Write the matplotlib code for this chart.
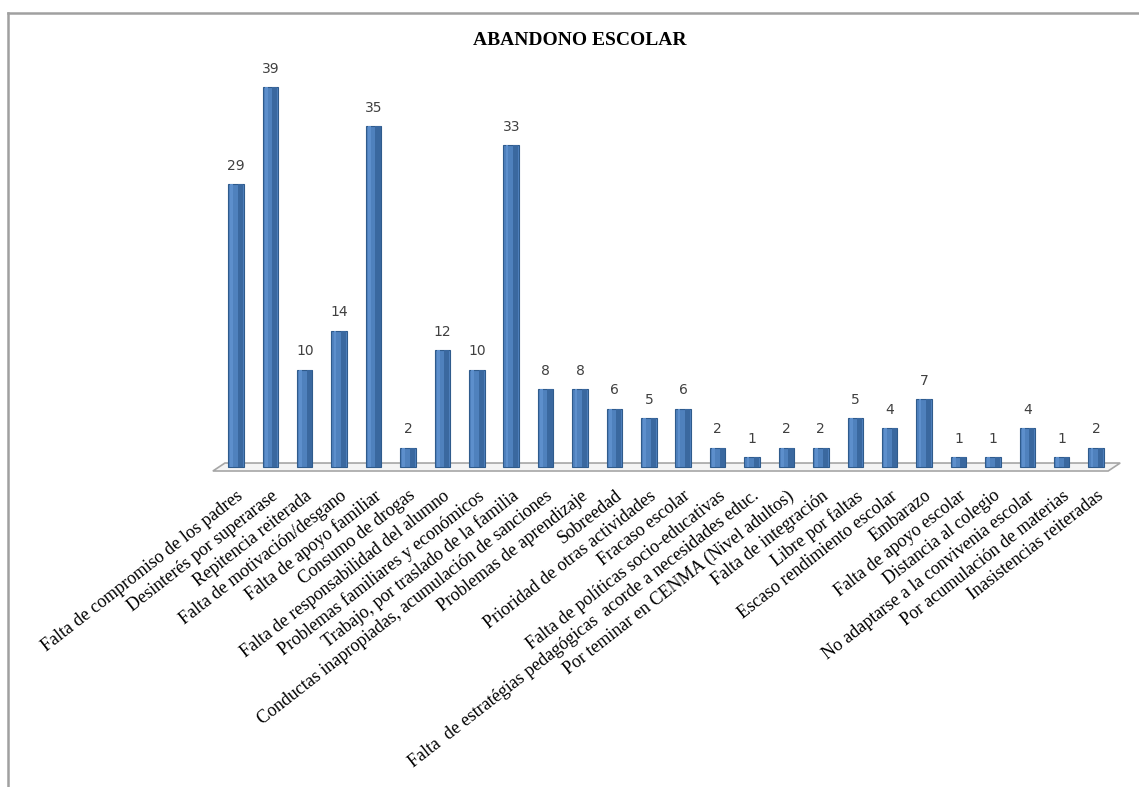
import matplotlib.pyplot as plt
from matplotlib.patches import Polygon
from matplotlib.lines import Line2D
import numpy as np

# causes of school dropout and counts
causas = [
    'Falta de compromiso de los padres',
    'Desinterés por superarase',
    'Repitencia reiterada',
    'Falta de motivación/desgano',
    'Falta de apoyo familiar',
    'Consumo de drogas',
    'Falta de responsabilidad del alumno',
    'Problemas familiares y económicos',
    'Trabajo, por traslado de la familia',
    'Conductas inapropiadas, acumulación de sanciones',
    'Problemas de aprendizaje',
    'Sobreedad',
    'Prioridad de otras actividades',
    'Fracaso escolar',
    'Falta de políticas socio-educativas',
    'Falta  de estratégias pedagógicas  acorde a necesidades educ.',
    'Por teminar en CENMA (Nivel adultos)',
    'Falta de integración',
    'Libre por faltas',
    'Escaso rendimiento escolar',
    'Embarazo',
    'Falta de apoyo escolar',
    'Distancia al colegio',
    'No adaptarse a la convivenia escolar',
    'Por acumulación de materias',
    'Inasistencias reiteradas',
]
cantidades = [29, 39, 10, 14, 35, 2, 12, 10, 33, 8, 8, 6, 5, 6, 2, 1, 2, 2, 5, 4, 7, 1, 1, 4, 1, 2]

titulo = 'ABANDONO ESCOLAR'

fig = plt.figure(figsize=(11.39, 7.87), dpi=100)
ax = fig.add_axes([0.186, 0.4004, 0.799, 0.5076])

x = np.arange(len(causas))

# floor of the pseudo-3D chart
piso = Polygon([(-0.67, -0.41), (25.35, -0.41), (25.7, 0.41), (-0.32, 0.41)],
               closed=True, facecolor='#f4f4f4', edgecolor='#a6a6a6', lw=1.2, zorder=1)
ax.add_patch(piso)

# bars: main body + darker right side for a cylinder look
ax.bar(x, cantidades, width=0.45, color='#4f81bd', edgecolor='#2f5b8c', lw=0.8, zorder=2)
ax.bar(x + 0.13, cantidades, width=0.15, color='#3a689f', lw=0, zorder=3)
ax.bar(x - 0.12, cantidades, width=0.08, color='#5d8fcc', lw=0, zorder=3)

for xi, v in zip(x, cantidades):
    ax.annotate(str(v), (xi, v), xytext=(0, 8), textcoords='offset points',
                ha='center', va='bottom', fontsize=10, color='#404040',
                family='DejaVu Sans', zorder=4)

ax.set_xlim(-0.7, 25.75)
ax.set_ylim(-0.5, 40.5)
ax.set_xticks(x)
ax.set_xticklabels(causas, rotation=38, ha='right', rotation_mode='anchor',
                   family='Liberation Serif', fontsize=13)
ax.tick_params(axis='x', length=0, pad=11)
ax.set_yticks([])
for s in ax.spines.values():
    s.set_visible(False)

fig.text(0.509, 0.949, titulo, ha='center', va='center', family='Liberation Serif',
         fontsize=14, fontweight='bold')

# partial frame visible at top and left
fig.add_artist(Line2D([8 / 1139, 1], [1 - 13 / 787, 1 - 13 / 787], color='#a0a0a0', lw=1.8))
fig.add_artist(Line2D([8 / 1139, 8 / 1139], [0, 1 - 13 / 787], color='#a0a0a0', lw=1.8))

fig.savefig('out.png', dpi=100)
